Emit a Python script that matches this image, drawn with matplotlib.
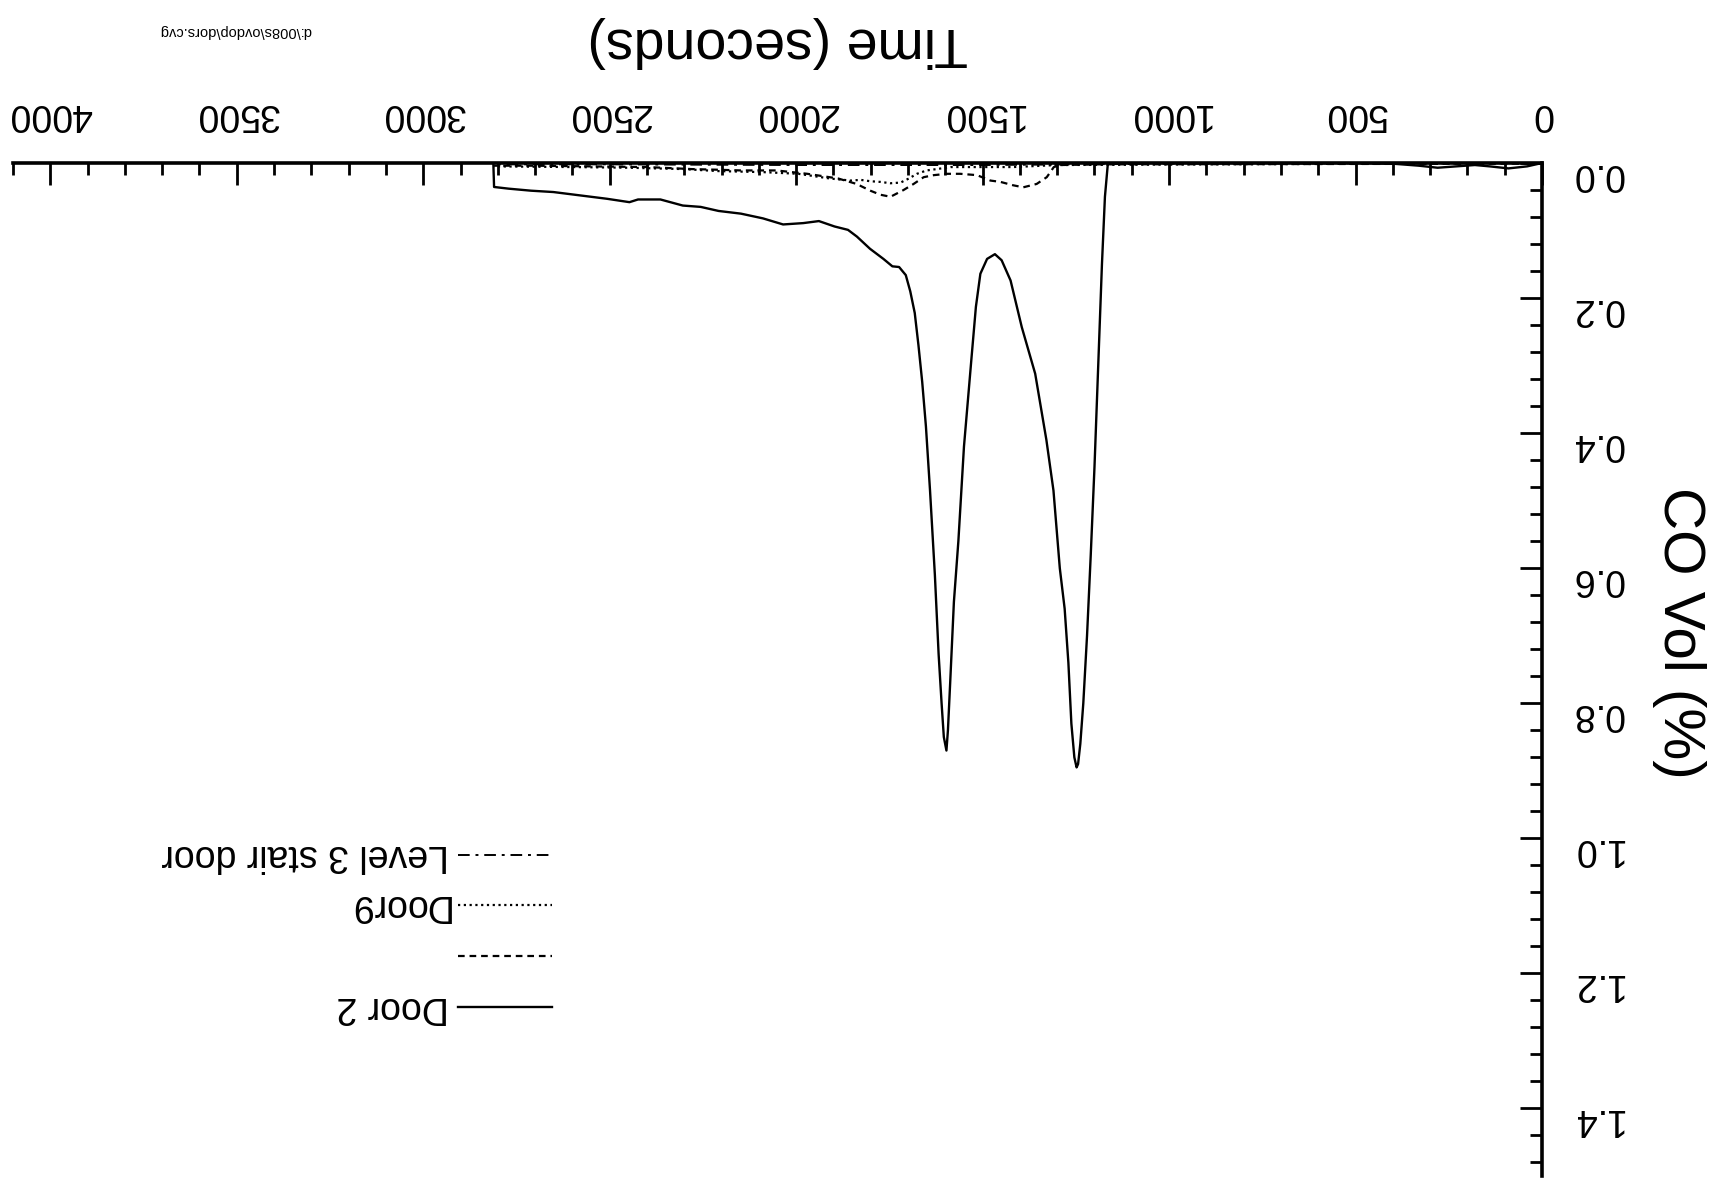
"""CO concentration at the doors, scanned chart (page is upside down)."""

import matplotlib

matplotlib.use("Agg")
import matplotlib.pyplot as plt  # noqa: E402
from matplotlib.ticker import MultipleLocator  # noqa: E402
from matplotlib.transforms import IdentityTransform, ScaledTranslation  # noqa: E402

plt.rcParams["font.family"] = ["Liberation Sans", "DejaVu Sans"]

# --- Data (time in s, CO in vol %) -------------------------------------

DOOR2_T = [0, 40, 90, 140, 180, 230, 280, 330, 400, 500, 800, 1150, 1164,
           1172, 1180, 1190, 1200, 1210, 1220, 1230, 1238, 1244, 1248, 1254,
           1262, 1270, 1280, 1293, 1310, 1329, 1359, 1395, 1425, 1449, 1467,
           1488, 1506, 1518, 1530, 1550, 1565, 1577, 1587, 1593, 1597, 1604,
           1610, 1618, 1628, 1641, 1652, 1662, 1672, 1682, 1694, 1706, 1724,
           1742, 1766, 1802, 1837, 1861, 1897, 1939, 1981, 2035, 2089, 2148,
           2208, 2256, 2304, 2364, 2424, 2447, 2507, 2579, 2651, 2711, 2771,
           2810, 2812]
DOOR2_CO = [0.0, 0.005, 0.008, 0.005, 0.003, 0.005, 0.007, 0.004, 0.001,
            0.0, 0.0, 0.0, 0.0, 0.05, 0.15, 0.30, 0.45, 0.58, 0.70, 0.80,
            0.86, 0.89, 0.895, 0.88, 0.83, 0.74, 0.66, 0.60, 0.485, 0.41,
            0.312, 0.243, 0.174, 0.144, 0.135, 0.142, 0.164, 0.213, 0.29,
            0.42, 0.56, 0.65, 0.77, 0.84, 0.87, 0.85, 0.80, 0.727, 0.61,
            0.485, 0.39, 0.324, 0.27, 0.222, 0.19, 0.166, 0.154, 0.153,
            0.142, 0.127, 0.109, 0.099, 0.094, 0.086, 0.089, 0.091, 0.082,
            0.075, 0.071, 0.065, 0.063, 0.054, 0.054, 0.058, 0.053, 0.048,
            0.043, 0.041, 0.038, 0.0355, 0.0]

# dashed trace, its legend label is blank on the scan
DASHED_T = [0, 1200, 1290, 1309, 1328, 1355, 1391, 1418, 1452, 1479, 1515,
            1560, 1596, 1631, 1658, 1685, 1712, 1747, 1774, 1801, 1838, 1887,
            1970, 2053, 2149, 2208, 2280, 2400, 2550, 2700, 2810]
DASHED_CO = [0.001, 0.002, 0.003, 0.006, 0.021, 0.031, 0.036, 0.033, 0.028,
             0.026, 0.018, 0.016, 0.016, 0.018, 0.021, 0.031, 0.040, 0.050,
             0.047, 0.041, 0.031, 0.023, 0.016, 0.011, 0.011, 0.010, 0.009,
             0.006, 0.005, 0.004, 0.004]

DOOR9_T = [0, 1300, 1418, 1497, 1586, 1623, 1650, 1676, 1698, 1720, 1747,
           1774, 1801, 1827, 1854, 1909, 1994, 2089, 2208, 2303, 2450, 2600,
           2810]
DOOR9_CO = [0.0, 0.003, 0.006, 0.006, 0.006, 0.009, 0.011, 0.016, 0.023,
            0.029, 0.030, 0.028, 0.027, 0.025, 0.026, 0.023, 0.016, 0.0135,
            0.012, 0.009, 0.007, 0.006, 0.005]

STAIR_T = [0, 1000, 1500, 2000, 2500, 2810]
STAIR_CO = [0.0, 0.001, 0.003, 0.003, 0.002, 0.002]

LEGEND_LABELS = ["Level 3 stair door", "Door9", "", "Door 2"]

FIG_W, FIG_H = 1715, 1186


def main() -> None:
    fig = plt.figure(figsize=(FIG_W / 100, FIG_H / 100), dpi=100)
    # the page was scanned upside down: both axes run backwards and all
    # text is turned through 180 degrees
    ax = fig.add_axes([13 / FIG_W, 1 - 1176 / FIG_H,
                       (1542 - 13) / FIG_W, (1176 - 163) / FIG_H])

    (l_door2,) = ax.plot(DOOR2_T, DOOR2_CO, color="black", lw=1.7)
    (l_dash,) = ax.plot(DASHED_T, DASHED_CO, color="black", lw=1.6,
                        linestyle=(0, (3, 2.2)))
    (l_door9,) = ax.plot(DOOR9_T, DOOR9_CO, color="black", lw=1.6,
                         linestyle=(0, (1, 1.6)))
    (l_stair,) = ax.plot(STAIR_T, STAIR_CO, color="black", lw=1.4,
                         linestyle=(0, (6, 3, 1.5, 3)))

    ax.set_xlim(4100, 0)
    ax.set_ylim(1.5, 0)

    ax.spines["left"].set_visible(False)
    ax.spines["bottom"].set_visible(False)
    for side in ("top", "right"):
        ax.spines[side].set_linewidth(2.6)

    ax.xaxis.set_major_locator(MultipleLocator(500))
    ax.xaxis.set_minor_locator(MultipleLocator(100))
    ax.yaxis.set_major_locator(MultipleLocator(0.2))
    ax.yaxis.set_minor_locator(MultipleLocator(0.04))
    ax.yaxis.set_major_formatter(lambda v, pos: f"{v:.1f}")

    ax.xaxis.tick_top()
    ax.yaxis.tick_right()
    ax.tick_params(axis="both", which="both", direction="in", width=2.0,
                   labelsize=27, labelrotation=180)
    ax.tick_params(axis="both", which="major", length=16)
    ax.tick_params(axis="both", which="minor", length=8.5)
    ax.tick_params(axis="x", pad=22.5, top=True, bottom=False,
                   labeltop=True, labelbottom=False)
    ax.tick_params(axis="y", pad=21, right=True, left=False,
                   labelright=True, labelleft=False)
    # on the scan the value labels sit a little below their ticks
    lift = ScaledTranslation(0, 7 / 100, fig.dpi_scale_trans)
    for lbl in ax.get_yticklabels():
        lbl.set_verticalalignment("top")
        lbl.set_transform(lbl.get_transform() + lift)

    ax.set_xlabel("Time (seconds)", fontsize=40, rotation=180)
    ax.xaxis.set_label_position("top")
    ax.xaxis.label.set_verticalalignment("center")
    ax.xaxis.set_label_coords(0.5, 1.119)

    ax.set_ylabel("CO Vol (%)", fontsize=42, rotation=270)
    ax.yaxis.set_label_position("right")
    ax.yaxis.label.set_verticalalignment("center")
    ax.yaxis.label.set_horizontalalignment("center")
    ax.yaxis.set_label_coords(1.0895, 0.536)

    # legend keys from matplotlib, the upside-down labels set beside them
    leg = ax.legend(
        [l_stair, l_door9, l_dash, l_door2],
        [""] * len(LEGEND_LABELS),
        loc="center right",
        bbox_to_anchor=(0.3525, 0.239),
        frameon=False,
        fontsize=27,
        markerfirst=False,
        handlelength=2.5,
        handletextpad=0,
        labelspacing=0.39,
        borderpad=0,
        borderaxespad=0,
    )
    fig.canvas.draw()
    renderer = fig.canvas.get_renderer()
    for key, label in zip(leg.get_lines(), LEGEND_LABELS):
        if not label:
            continue
        bb = key.get_window_extent(renderer)
        fig.text(bb.x0 - 9, (bb.y0 + bb.y1) / 2, label, fontsize=27,
                 rotation=180, ha="right", va="center",
                 transform=IdentityTransform())

    # file tag printed in the corner of the page
    fig.text(235 / FIG_W, 1 - 31 / FIG_H, "d:\\008s\\ovdop\\dors.cvg",
             rotation=180, fontsize=10.5, ha="center", va="center")

    fig.savefig("out.png", dpi=100)


if __name__ == "__main__":
    main()
